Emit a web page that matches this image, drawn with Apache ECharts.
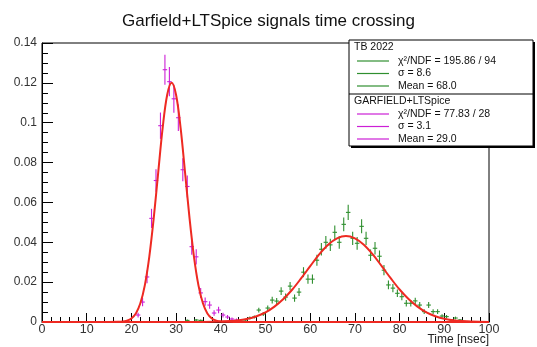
<!DOCTYPE html>
<html>
<head>
<meta charset="utf-8">
<script src="https://cdn.jsdelivr.net/npm/echarts@6.0.0/dist/echarts.min.js"></script>
<style>
  html, body { margin: 0; padding: 0; background: #fff; }
  #chart { width: 537px; height: 347px; }
</style>
</head>
<body>
<div id="chart"></div>
<script>
// GARFIELD+LTSpice histogram (bin centre, content, error)
const magT = [21.5, 22.5, 23.5, 24.5, 25.5, 26.5, 27.5, 28.5, 29.5, 30.5, 31.5, 32.5,
  33.5, 34.5, 35.5, 36.5, 37.5, 38.5, 39.5, 40.5, 41.5, 42.5, 43.5];
const magV = [0.0035, 0.010, 0.0226, 0.052, 0.071, 0.0985, 0.1266, 0.1206, 0.112, 0.1025, 0.0764, 0.068,
  0.0378, 0.0327, 0.0146, 0.0102, 0.0085, 0.0045, 0.006, 0.0035, 0.0025, 0.0015, 0.001];
const magE = [0.0012, 0.0021, 0.0032, 0.0048, 0.0056, 0.0066, 0.0075, 0.0073, 0.0070, 0.0067, 0.0058, 0.0055,
  0.0041, 0.0038, 0.0025, 0.0021, 0.0019, 0.0014, 0.0016, 0.0012, 0.0010, 0.0008, 0.0007];

// TB 2022 histogram
const grnT = [32.5, 34.5, 35.5, 44.5, 45.5, 46.5, 47.5, 48.5, 49.5, 50.5, 51.5, 52.5, 53.5, 54.5,
  55.5, 56.5, 57.5, 58.5, 59.5, 60.5, 61.5, 62.5, 63.5, 64.5, 65.5, 66.5, 67.5, 68.5, 69.5,
  70.5, 71.5, 72.5, 73.5, 74.5, 75.5, 76.5, 77.5, 78.5, 79.5, 80.5, 81.5, 82.5, 83.5, 84.5,
  85.5, 86.5, 87.5, 88.5, 89.5, 90.5, 91.5, 92.5, 93.5];
const grnV = [0.0008, 0.001, 0.0008, 0.0005, 0.001, 0.002, 0.0025, 0.006, 0.004, 0.007, 0.011, 0.0105, 0.0155, 0.0125,
  0.018, 0.012, 0.015, 0.025, 0.0215, 0.0215, 0.031, 0.0365, 0.040, 0.0387, 0.045, 0.040, 0.049, 0.055, 0.042,
  0.0395, 0.048, 0.042, 0.0335, 0.037, 0.033, 0.026, 0.0186, 0.017, 0.0144, 0.0127, 0.0094, 0.0094, 0.0106, 0.0085,
  0.0052, 0.0085, 0.0052, 0.0052, 0.003, 0.0027, 0.001, 0.002, 0.001];
const grnE = [0.0005, 0.0005, 0.0005, 0.0004, 0.0005, 0.0007, 0.0008, 0.0012, 0.0010, 0.0013, 0.0017, 0.0016, 0.0020, 0.0018,
  0.0021, 0.0018, 0.0020, 0.0025, 0.0023, 0.0023, 0.0028, 0.0031, 0.0032, 0.0031, 0.0034, 0.0032, 0.0035, 0.0038, 0.0033,
  0.0032, 0.0035, 0.0033, 0.0029, 0.0031, 0.0029, 0.0026, 0.0022, 0.0021, 0.0019, 0.0018, 0.0016, 0.0016, 0.0016, 0.0015,
  0.0012, 0.0015, 0.0012, 0.0012, 0.0009, 0.0008, 0.0005, 0.0007, 0.0005];

// fitted curves
const fitMagT = [0, 15, 17, 18, 19, 20, 21, 22, 23, 24, 25, 26, 27, 28, 29, 30, 31, 32, 33, 34, 35, 36, 37, 38, 39, 40, 41, 43, 100];
const fitMagV = [0, 0, 0.00007, 0.0002, 0.0007, 0.0018, 0.0043, 0.0094, 0.0184, 0.0327, 0.0522, 0.0751, 0.0975, 0.1139, 0.1200,
  0.1139, 0.0975, 0.0751, 0.0522, 0.0327, 0.0184, 0.0094, 0.0043, 0.0018, 0.0007, 0.0002, 0.00007, 0, 0];
const fitGrnT = [0, 30, 36, 40, 42, 44, 46, 48, 50, 52, 54, 56, 58, 60, 62, 64, 66, 68, 70, 72, 74, 76, 78, 80,
  82, 84, 86, 88, 90, 92, 94, 96, 100];
const fitGrnV = [0, 0, 0.00004, 0.0002, 0.00045, 0.00088, 0.0016, 0.0029, 0.0048, 0.0077, 0.0115, 0.0163, 0.0220, 0.0280,
  0.0339, 0.0388, 0.0420, 0.0432, 0.0420, 0.0388, 0.0339, 0.0280, 0.0220, 0.0163, 0.0115, 0.0077, 0.0048, 0.0029,
  0.0016, 0.00088, 0.00045, 0.0002, 0.00004];

const xTicks = { min: 0, max: 100, step: 10 };
const yTicks = { min: 0, max: 0.14, step: 0.02 };

const GREEN = '#2f8f2f';
const MAGENTA = '#cc1fd6';
const RED = '#ee2a22';
const FONT = '"Liberation Sans", Arial, sans-serif';

function zip(a, b, c) {
  return a.map((v, i) => c ? [v, b[i], c[i]] : [v, b[i]]);
}

function errBars(color) {
  return function (params, api) {
    const t = api.value(0), v = api.value(1), e = api.value(2);
    const top = api.coord([t, v + e]);
    const bot = api.coord([t, Math.max(0, v - e)]);
    const l = api.coord([t - 0.5, v]);
    const r = api.coord([t + 0.5, v]);
    const st = { stroke: color, lineWidth: 1.1 };
    return {
      type: 'group',
      children: [
        { type: 'line', shape: { x1: top[0], y1: top[1], x2: bot[0], y2: bot[1] }, style: st },
        { type: 'line', shape: { x1: l[0], y1: l[1], x2: r[0], y2: r[1] }, style: st }
      ]
    };
  };
}

// stats box on the top right
const boxX = 349, boxY = 40, boxW = 184, boxH = 106;
const statRows = [
  { y: 47, text: 'TB 2022', head: true },
  { y: 61, text: 'χ²/NDF = 195.86 / 94', color: GREEN },
  { y: 73.5, text: 'σ = 8.6', color: GREEN },
  { y: 86, text: 'Mean = 68.0', color: GREEN },
  { y: 101, text: 'GARFIELD+LTSpice', head: true },
  { y: 114, text: 'χ²/NDF = 77.83 / 28', color: MAGENTA },
  { y: 126.5, text: 'σ = 3.1', color: MAGENTA },
  { y: 139, text: 'Mean = 29.0', color: MAGENTA }
];
const legendGfx = [
  { type: 'rect', shape: { x: boxX + 2, y: boxY + 2, width: boxW, height: boxH }, style: { fill: '#000' }, z: 100 },
  { type: 'rect', shape: { x: boxX, y: boxY, width: boxW, height: boxH }, style: { fill: '#fff', stroke: '#000', lineWidth: 1 }, z: 101 },
  { type: 'line', shape: { x1: boxX, y1: 94, x2: boxX + boxW, y2: 94 }, style: { stroke: '#000', lineWidth: 1 }, z: 102 }
];
statRows.forEach(row => {
  if (row.head) {
    legendGfx.push({ type: 'text', x: 354, y: row.y, z: 102,
      style: { text: row.text, fill: '#111', font: '10.5px ' + FONT, textVerticalAlign: 'middle' } });
  } else {
    legendGfx.push({ type: 'line', shape: { x1: 357, y1: row.y, x2: 389, y2: row.y }, z: 102,
      style: { stroke: row.color, lineWidth: 1.2 } });
    legendGfx.push({ type: 'text', x: 398, y: row.y, z: 102,
      style: { text: row.text, fill: '#111', font: '10.5px ' + FONT, textVerticalAlign: 'middle' } });
  }
});
legendGfx.push({ type: 'text', right: 48, top: 334,
  style: { text: 'Time [nsec]', fill: '#222', font: '12px ' + FONT } });

const chart = echarts.init(document.getElementById('chart'), null, { renderer: 'canvas' });
chart.setOption({
  animation: false,
  backgroundColor: '#fff',
  title: {
    text: 'Garfield+LTSpice signals time crossing',
    left: 'center', top: 8,
    textStyle: { fontFamily: FONT, fontSize: 17, fontWeight: 'normal', color: '#111' }
  },
  grid: {
    left: 42, right: 48, top: 43, bottom: 25,
    show: true, borderColor: '#000', borderWidth: 1, backgroundColor: 'transparent'
  },
  xAxis: {
    type: 'value', min: xTicks.min, max: xTicks.max, interval: xTicks.step,
    axisLine: { onZero: false, lineStyle: { color: '#000', width: 1 } },
    axisTick: { inside: true, length: 9, lineStyle: { color: '#000' } },
    minorTick: { show: true, splitNumber: 5, length: 5, lineStyle: { color: '#000' } },
    splitLine: { show: false },
    axisLabel: { margin: 1, color: '#333', fontFamily: FONT, fontSize: 12.5 }
  },
  yAxis: {
    type: 'value', min: yTicks.min, max: yTicks.max, interval: yTicks.step,
    axisLine: { show: true, onZero: false, lineStyle: { color: '#000', width: 1 } },
    axisTick: { show: true, inside: true, length: 11, lineStyle: { color: '#000' } },
    minorTick: { show: true, splitNumber: 4, length: 6, lineStyle: { color: '#000' } },
    splitLine: { show: false },
    axisLabel: {
      margin: 5, color: '#333', fontFamily: FONT, fontSize: 12,
      formatter: v => v === 0 ? '0' : String(+v.toFixed(2))
    }
  },
  series: [
    { name: 'TB 2022', type: 'custom', renderItem: errBars(GREEN), clip: true,
      encode: { x: 0, y: 1 }, data: zip(grnT, grnV, grnE), z: 3 },
    { name: 'GARFIELD+LTSpice', type: 'custom', renderItem: errBars(MAGENTA), clip: true,
      encode: { x: 0, y: 1 }, data: zip(magT, magV, magE), z: 3 },
    { name: 'fit TB', type: 'line', data: zip(fitGrnT, fitGrnV), smooth: 0.35, showSymbol: false,
      lineStyle: { color: RED, width: 2 }, z: 4 },
    { name: 'fit GARFIELD', type: 'line', data: zip(fitMagT, fitMagV), smooth: 0.35, showSymbol: false,
      lineStyle: { color: RED, width: 2 }, z: 4 }
  ],
  graphic: legendGfx
});
</script>
</body>
</html>
